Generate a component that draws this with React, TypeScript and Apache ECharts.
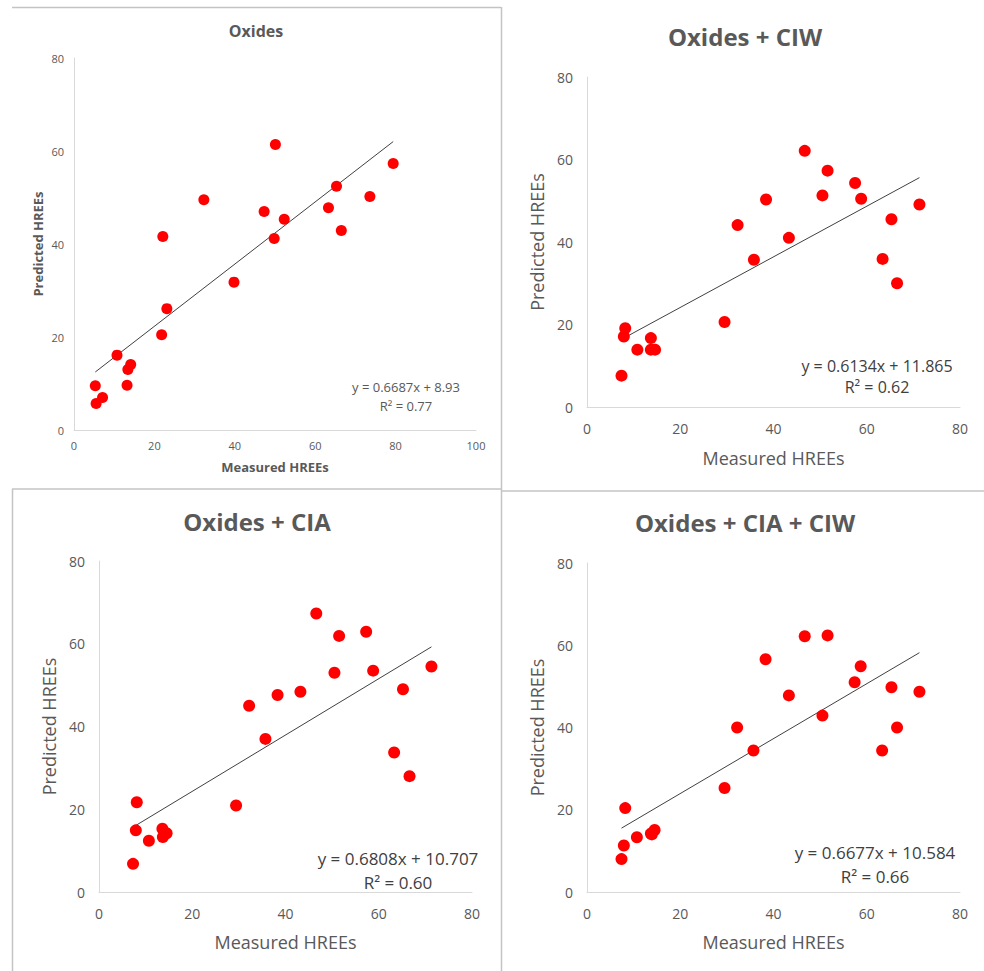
import React, { useEffect, useRef } from "react";
import * as echarts from "echarts";

// ---- Data ----
const panelTitles = ["Oxides", "Oxides + CIW", "Oxides + CIA", "Oxides + CIA + CIW"];
const xAxisMax = [100, 80, 80, 80];
const yAxisMax = [80, 80, 80, 80];
const xAxisName = "Measured HREEs";
const yAxisName = "Predicted HREEs";

const oxidesMeasured = [5.3, 5.5, 7.1, 10.7, 13.2, 13.4, 14.1, 21.8, 22.1, 23.1, 32.3, 39.8, 47.3, 49.8, 50.1, 52.3, 63.3, 65.3, 66.5, 73.6, 79.4];
const oxidesPredicted = [9.5, 5.7, 7.0, 16.1, 9.6, 13.0, 14.1, 20.5, 41.6, 26.1, 49.5, 31.8, 47.0, 41.2, 61.4, 45.3, 47.8, 52.4, 42.9, 50.2, 57.3];

const ciwMeasured = [7.4, 7.9, 8.2, 10.8, 13.7, 13.7, 14.6, 29.5, 32.3, 35.8, 38.4, 43.3, 46.7, 50.5, 51.6, 57.5, 58.8, 63.4, 65.3, 66.5, 71.3];
const ciwPredicted = [7.6, 17.1, 19.1, 13.9, 16.7, 13.9, 13.9, 20.6, 44.1, 35.7, 50.3, 41.0, 62.1, 51.3, 57.3, 54.3, 50.5, 35.9, 45.5, 30.0, 49.1];

const ciaMeasured = [7.3, 7.9, 8.1, 10.7, 13.6, 13.7, 14.5, 29.4, 32.2, 35.7, 38.3, 43.2, 46.6, 50.5, 51.5, 57.3, 58.8, 63.3, 65.2, 66.6, 71.3];
const ciaPredicted = [6.8, 14.9, 21.7, 12.4, 15.3, 13.3, 14.2, 20.9, 45.0, 37.0, 47.6, 48.4, 67.3, 53.0, 61.9, 62.9, 53.5, 33.7, 49.0, 28.0, 54.5];

const ciaCiwMeasured = [7.4, 7.9, 8.2, 10.7, 13.7, 13.9, 14.5, 29.5, 32.2, 35.7, 38.3, 43.3, 46.7, 50.5, 51.6, 57.4, 58.7, 63.3, 65.3, 66.5, 71.3];
const ciaCiwPredicted = [8.0, 11.3, 20.4, 13.3, 14.2, 14.0, 15.1, 25.3, 40.0, 34.4, 56.6, 47.8, 62.2, 42.9, 62.4, 51.0, 54.9, 34.4, 49.8, 40.0, 48.7];

const trendSlopes = [0.6687, 0.6134, 0.6808, 0.6677];
const trendIntercepts = [8.93, 11.865, 10.707, 10.584];
const trendEquations = ["y = 0.6687x + 8.93", "y = 0.6134x + 11.865", "y = 0.6808x + 10.707", "y = 0.6677x + 10.584"];
const rSquaredLabels = ["R² = 0.77", "R² = 0.62", "R² = 0.60", "R² = 0.66"];

const measuredSets = [oxidesMeasured, ciwMeasured, ciaMeasured, ciaCiwMeasured];
const predictedSets = [oxidesPredicted, ciwPredicted, ciaPredicted, ciaCiwPredicted];

// ---- Layout / style ----
const FONT = "'Open Sans', sans-serif";
const grids = [
  { left: 74, top: 58, width: 402, height: 372 },
  { left: 587, top: 77, width: 373, height: 330 },
  { left: 99, top: 561, width: 373, height: 331 },
  { left: 587, top: 563, width: 373, height: 329 },
];
const titlePos = [
  { x: 256, y: 31, size: 16 },
  { x: 745, y: 37, size: 24 },
  { x: 257, y: 522, size: 24 },
  { x: 745, y: 523, size: 24 },
];
const eqPos = [
  { x: 406, y1: 387, y2: 406, size: 13, color: "#595959" },
  { x: 877, y1: 366, y2: 387, size: 16, color: "#404040" },
  { x: 398, y1: 858, y2: 882, size: 17, color: "#404040" },
  { x: 875, y1: 852, y2: 876, size: 17, color: "#404040" },
];
const axisStyle = [
  { tick: 11, labelMargin: 10, name: 13, bold: true, nameGapX: 30, nameGapY: 30, dot: 11 },
  { tick: 14, labelMargin: 14, name: 18, bold: false, nameGapX: 42, nameGapY: 41, dot: 12 },
  { tick: 14, labelMargin: 14, name: 18, bold: false, nameGapX: 41, nameGapY: 41, dot: 12 },
  { tick: 14, labelMargin: 14, name: 18, bold: false, nameGapX: 41, nameGapY: 41, dot: 12 },
];

export default function App() {
  const ref = useRef<HTMLDivElement>(null);

  useEffect(() => {
    if (!ref.current) return;
    const chart = echarts.init(ref.current, undefined, { renderer: "svg" });

    const xAxes: any[] = [];
    const yAxes: any[] = [];
    const series: any[] = [];
    const titles: any[] = [];
    const graphics: any[] = [];

    for (let i = 0; i < 4; i++) {
      const s = axisStyle[i];
      const common = {
        type: "value",
        gridIndex: i,
        min: 0,
        interval: 20,
        splitLine: { show: false },
        axisTick: { show: false },
        axisLine: { show: true, lineStyle: { color: "#d9d9d9", width: 1 } },
        axisLabel: { color: "#595959", fontSize: s.tick, fontFamily: FONT, margin: s.labelMargin },
        nameLocation: "middle",
        nameTextStyle: {
          color: "#595959",
          fontSize: s.name,
          fontFamily: FONT,
          fontWeight: s.bold ? "bold" : "normal",
        },
      };
      xAxes.push({ ...common, max: xAxisMax[i], name: xAxisName, nameGap: s.nameGapX });
      yAxes.push({ ...common, max: yAxisMax[i], name: yAxisName, nameGap: s.nameGapY });

      const xs = measuredSets[i];
      const ys = predictedSets[i];
      series.push({
        type: "scatter",
        xAxisIndex: i,
        yAxisIndex: i,
        symbol: "circle",
        symbolSize: s.dot,
        itemStyle: { color: "#ff0000", opacity: 1 },
        data: xs.map((x, k) => [x, ys[k]]),
        z: 3,
      });
      const xMin = Math.min(...xs);
      const xMax = Math.max(...xs);
      series.push({
        type: "line",
        xAxisIndex: i,
        yAxisIndex: i,
        showSymbol: false,
        symbol: "none",
        lineStyle: { color: "#404040", width: 1 },
        data: [
          [xMin, trendSlopes[i] * xMin + trendIntercepts[i]],
          [xMax, trendSlopes[i] * xMax + trendIntercepts[i]],
        ],
        z: 2,
      });

      const t = titlePos[i];
      titles.push({
        text: panelTitles[i],
        left: t.x,
        top: t.y - t.size * 0.52,
        textAlign: "center",
        padding: 0,
        textStyle: { color: "#595959", fontSize: t.size, fontWeight: "bold", fontFamily: FONT },
      });

      const e = eqPos[i];
      graphics.push({
        type: "text",
        x: e.x,
        y: e.y1,
        style: {
          text: trendEquations[i],
          fill: e.color,
          font: `${e.size}px ${FONT}`,
          align: "center",
          verticalAlign: "middle",
        },
        z: 10,
      });
      graphics.push({
        type: "text",
        x: e.x,
        y: e.y2,
        style: {
          text: rSquaredLabels[i],
          fill: e.color,
          font: `${e.size}px ${FONT}`,
          align: "center",
          verticalAlign: "middle",
        },
        z: 10,
      });
    }

    const frame = { stroke: "#c4c4c4", lineWidth: 1.5 };
    graphics.push(
      { type: "line", shape: { x1: 12, y1: 7.5, x2: 501, y2: 7.5 }, style: frame },
      { type: "line", shape: { x1: 501.5, y1: 7, x2: 501.5, y2: 971 }, style: frame },
      { type: "line", shape: { x1: 12, y1: 489, x2: 501, y2: 489 }, style: frame },
      { type: "line", shape: { x1: 12.5, y1: 489, x2: 12.5, y2: 971 }, style: frame },
      { type: "line", shape: { x1: 501, y1: 491, x2: 984, y2: 491 }, style: frame }
    );

    chart.setOption({
      animation: false,
      backgroundColor: "#ffffff",
      title: titles,
      grid: grids,
      xAxis: xAxes,
      yAxis: yAxes,
      series,
      graphic: graphics,
    });

    return () => chart.dispose();
  }, []);

  return (
    <div
      ref={ref}
      style={{ position: "absolute", left: 0, top: 0, width: 984, height: 971, background: "#fff" }}
    />
  );
}
